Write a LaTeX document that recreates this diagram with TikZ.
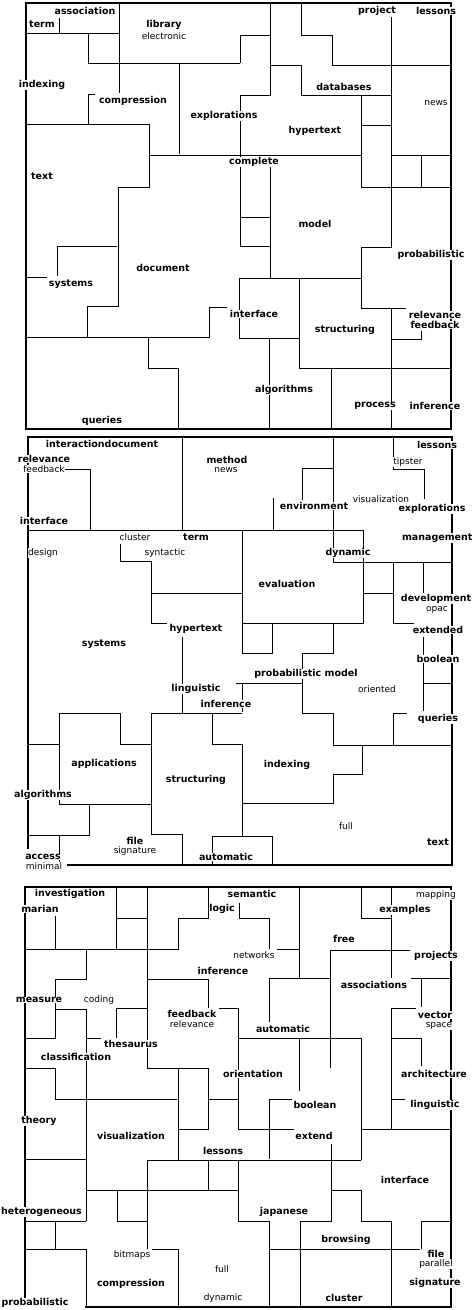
\documentclass[tikz,border=0pt]{standalone}
\usepackage{fontspec}
\setmainfont{DejaVu Sans}
\begin{document}
\begin{tikzpicture}[x=1pt,y=-1pt,
  ln/.style={line width=0.9pt},
  bord/.style={line width=1.6pt},
  boldlab/.style={font=\fontsize{9.5}{10}\selectfont\bfseries,fill=white,inner sep=0.4pt},
  reglab/.style={font=\fontsize{9}{10}\selectfont,fill=white,inner sep=0.4pt}]
\useasboundingbox (0,0) rectangle (474,1310);
\fill[white] (0,0) rectangle (474,1310);
% ================= PANEL 1 =================
\draw[bord] (26,3) rectangle (451,429);
\draw[ln] (26,33)--(119,33) (59,18)--(59,33) (119,3)--(119,93)
 (88,33)--(88,63)--(240,63)
 (88,124)--(88,94)--(95,94)
 (26,124)--(149,124)--(149,187)--(118,187)--(118,306)--(87,306)--(87,337)
 (26,337)--(209,337)--(209,307)--(227,307)
 (57,276)--(57,246)--(117,246)
 (26,277)--(47,277)
 (148,337)--(148,368)--(178,368)--(178,429)
 (179,63)--(179,154)
 (149,155)--(361,155)
 (240,63)--(240,35)--(270,35)
 (270,3)--(270,95)--(240,95)--(240,246)
 (240,217)--(270,217) (240,246)--(270,246)
 (270,65)--(301,65)--(301,95)--(391,95)
 (301,3)--(301,35)--(332,35)--(332,65)--(451,65)
 (391,17)--(391,247)--(361,247)--(361,308)--(406,308)
 (391,308)--(391,429)
 (361,95)--(361,187)--(451,187)
 (361,125)--(391,125)
 (391,155)--(451,155) (421,155)--(421,187)
 (270,158)--(270,278)
 (239,278)--(361,278)
 (239,278)--(239,338)--(299,338)
 (299,278)--(299,368)--(451,368)
 (269,338)--(269,429)
 (331,368)--(331,429)
 (391,339)--(421,339)--(421,331);
\node[boldlab] (a1) at (85,11) {association};
\node[boldlab] (a2) at (42,24) {term};
\node[boldlab] (a3) at (164,25) {library};
\node[reglab] (a4) at (164,36) {electronic};
\node[boldlab] (a5) at (42,85) {indexing};
\node[boldlab] (a6) at (133,101) {compression};
\node[boldlab] (a7) at (224,116) {explorations};
\node[boldlab] (a8) at (377,11) {project};
\node[boldlab] (a9) at (436,11) {lessons};
\node[boldlab] (a10) at (344,87) {databases};
\node[reglab] (a11) at (436,103) {news};
\node[boldlab] (a12) at (315,131) {hypertext};
\node[boldlab] (a13) at (254,162) {complete};
\node[boldlab] (a14) at (42,176) {text};
\node[boldlab] (a15) at (163,268) {document};
\node[boldlab] (a16) at (71,284) {systems};
\node[boldlab] (a17) at (254,314) {interface};
\node[boldlab] (a18) at (315,224) {model};
\node[boldlab,anchor=west] (a19) at (397,255) {probabilistic};
\node[boldlab] (a20) at (435,315) {relevance};
\node[boldlab] (a21) at (435,325) {feedback};
\node[boldlab] (a22) at (345,330) {structuring};
\node[boldlab] (a23) at (284,390) {algorithms};
\node[boldlab] (a24) at (375,406) {process};
\node[boldlab] (a25) at (435,406) {inference};
\node[boldlab] (a26) at (102,421) {queries};
% ================= PANEL 2 =================
\draw[bord] (67,865)--(452,865)--(452,437)--(28,437)--(28,849);
\draw[ln] (65,469)--(90,469)--(90,530)
 (28,530)--(363,530)--(363,623)--(242,623)--(242,530)
 (182,437)--(182,530)
 (120,544)--(120,561)--(151,561)--(151,623)--(167,623)
 (151,593)--(242,593)
 (182,637)--(182,713)
 (242,623)--(242,653)--(272,653)--(272,623)
 (363,593)--(393,593)
 (333,438)--(333,562)--(452,562)
 (302,500)--(302,468)--(333,468)
 (273,498)--(273,530)
 (393,438)--(393,469)--(424,469)--(424,499)
 (393,562)--(393,623)--(414,623)
 (423,562)--(423,593)
 (423,637)--(423,711)
 (423,683)--(452,683)
 (333,623)--(333,653)--(302,653)--(302,713)--(333,713)--(333,745)--(452,745)
 (236,683)--(302,683)
 (242,683)--(242,712)
 (393,713)--(393,745) (393,713)--(407,713)
 (362,745)--(362,774)--(333,774)--(333,803)--(242,803)
 (242,744)--(242,836)
 (151,713)--(242,713)
 (212,713)--(212,744)--(242,744)
 (151,713)--(151,834)--(182,834)--(182,865)
 (212,865)--(212,836)--(272,836)--(272,865)
 (59,804)--(59,713)--(120,713)--(120,744)--(151,744)
 (28,744)--(59,744)
 (59,804)--(151,804)
 (89,804)--(89,835)--(28,835)
 (59,835)--(59,865);
\node[boldlab] (b1) at (102,444) {interactiondocument};
\node[boldlab] (b2) at (44,459) {relevance};
\node[reglab] (b3) at (44,469) {feedback};
\node[boldlab] (b4) at (44,521) {interface};
\node[reglab] (b5) at (135,537) {cluster};
\node[boldlab] (b6) at (196,537) {term};
\node[reglab] (b7) at (43,553) {design};
\node[reglab] (b8) at (165,553) {syntactic};
\node[boldlab] (b9) at (196,629) {hypertext};
\node[boldlab] (b10) at (104,644) {systems};
\node[boldlab] (b11) at (227,460) {method};
\node[reglab] (b12) at (226,470) {news};
\node[boldlab] (b13) at (314,506) {environment};
\node[reglab] (b14) at (381,499) {visualization};
\node[reglab] (b15) at (408,462) {tipster};
\node[boldlab] (b16) at (437,445) {lessons};
\node[boldlab] (b17) at (432,509) {explorations};
\node[boldlab,anchor=east] (b18) at (473,538) {management};
\node[boldlab] (b19) at (348,553) {dynamic};
\node[boldlab] (b20) at (287,584) {evaluation};
\node[boldlab] (b21) at (436,599) {development};
\node[reglab] (b22) at (437,610) {opac};
\node[boldlab] (b23) at (438,630) {extended};
\node[boldlab] (b24) at (438,659) {boolean};
\node[boldlab] (b25) at (306,674) {probabilistic model};
\node[reglab] (b26) at (377,689) {oriented};
\node[boldlab] (b27) at (196,689) {linguistic};
\node[boldlab] (b28) at (226,704) {inference};
\node[boldlab] (b29) at (438,719) {queries};
\node[boldlab] (b30) at (104,764) {applications};
\node[boldlab] (b31) at (196,780) {structuring};
\node[boldlab] (b32) at (287,765) {indexing};
\node[boldlab] (b33) at (43,795) {algorithms};
\node[reglab] (b34) at (346,826) {full};
\node[boldlab] (b35) at (438,842) {text};
\node[boldlab] (b36) at (135,841) {file};
\node[reglab] (b37) at (135,851) {signature};
\node[boldlab] (b38) at (43,857) {access};
\node[reglab] (b39) at (44,866) {minimal};
\node[boldlab] (b40) at (226,857) {automatic};
% ================= PANEL 3 =================
\draw[bord] (85,1307)--(451,1307)--(451,887)--(25,887)--(25,1299);
\draw[ln] (116,887)--(116,949) (116,918)--(147,918) (147,887)--(147,1068)
 (55,916)--(55,949)
 (25,949)--(178,949)--(178,918)--(208,918)--(208,887)
 (239,903)--(239,918)--(269,918)--(269,949)
 (86,949)--(86,979)--(55,979)--(55,1038)--(25,1038)
 (55,1009)--(86,1009)--(86,1221)
 (86,1038)--(101,1038)
 (116,1038)--(116,1008)--(147,1008)
 (25,1068)--(55,1068)--(55,1099)--(177,1099)
 (147,979)--(208,979)--(208,1008)
 (219,1008)--(238,1008)--(238,1129)
 (147,1068)--(208,1068)
 (178,1068)--(178,1160)
 (178,1129)--(208,1129)--(208,1068)
 (208,1099)--(238,1099)
 (361,887)--(361,918)--(391,918)
 (391,887)--(391,978)
 (299,887)--(299,978)
 (269,978)--(330,978)
 (269,978)--(269,1022)
 (277,949)--(299,949)
 (330,1068)--(330,950)--(410,950)
 (411,978)--(451,978)
 (421,978)--(421,1007)
 (416,1008)--(391,1008)--(391,1129)
 (391,1038)--(421,1038)--(421,1066)
 (238,1038)--(361,1038)--(361,1160)
 (299,1038)--(299,1091)
 (25,1159)--(86,1159)
 (147,1249)--(147,1160)--(361,1160)
 (86,1190)--(238,1190)
 (208,1160)--(208,1190)
 (117,1190)--(117,1221)--(147,1221)
 (25,1221)--(86,1221)
 (55,1221)--(55,1249)
 (25,1249)--(86,1249)--(86,1307)
 (152,1249)--(178,1249)--(178,1307)
 (292,1099)--(269,1099)--(269,1159)
 (238,1129)--(294,1129)
 (361,1129)--(451,1129)
 (391,1099)--(405,1099)
 (238,1160)--(238,1221)--(269,1221)--(269,1307)
 (300,1307)--(300,1221)--(331,1221)--(331,1144)
 (331,1190)--(361,1190)--(361,1221)--(391,1221)--(391,1307)
 (269,1249)--(420,1249)
 (421,1249)--(421,1221)--(451,1221);
\node[boldlab] (c1) at (70,894) {investigation};
\node[boldlab] (c2) at (40,909) {marian};
\node[boldlab] (c3) at (252,894) {semantic};
\node[boldlab] (c4) at (222,909) {logic};
\node[reglab] (c5) at (436,895) {mapping};
\node[boldlab] (c6) at (405,910) {examples};
\node[boldlab] (c7) at (223,971) {inference};
\node[reglab] (c8) at (254,955) {networks};
\node[boldlab] (c9) at (344,939) {free};
\node[boldlab] (c10) at (436,956) {projects};
\node[boldlab] (c11) at (374,985) {associations};
\node[boldlab] (c12) at (39,1000) {measure};
\node[reglab] (c13) at (99,1000) {coding};
\node[boldlab] (c14) at (192,1014) {feedback};
\node[reglab] (c15) at (192,1024) {relevance};
\node[boldlab] (c16) at (435,1015) {vector};
\node[reglab] (c17) at (439,1026) {space};
\node[boldlab] (c18) at (283,1029) {automatic};
\node[boldlab] (c19) at (131,1044) {thesaurus};
\node[boldlab] (c20) at (76,1057) {classification};
\node[boldlab] (c21) at (253,1074) {orientation};
\node[boldlab] (c22) at (434,1074) {architecture};
\node[boldlab] (c23) at (315,1105) {boolean};
\node[boldlab] (c24) at (435,1105) {linguistic};
\node[boldlab] (c25) at (39,1121) {theory};
\node[boldlab] (c26) at (131,1136) {visualization};
\node[boldlab] (c27) at (314,1136) {extend};
\node[boldlab] (c28) at (223,1151) {lessons};
\node[boldlab] (c29) at (405,1180) {interface};
\node[boldlab] (c30) at (41.5,1212) {heterogeneous};
\node[boldlab] (c31) at (284,1212) {japanese};
\node[boldlab] (c32) at (346,1240) {browsing};
\node[reglab] (c33) at (132,1255) {bitmaps};
\node[boldlab] (c34) at (436,1254) {file};
\node[reglab] (c35) at (436,1264) {parallel};
\node[reglab] (c36) at (222,1269) {full};
\node[boldlab] (c37) at (435,1283) {signature};
\node[boldlab] (c38) at (131,1284) {compression};
\node[reglab] (c39) at (223,1298) {dynamic};
\node[boldlab] (c40) at (344,1298) {cluster};
\node[boldlab,anchor=west] (c41) at (1,1303) {probabilistic};
\end{tikzpicture}
\end{document}
